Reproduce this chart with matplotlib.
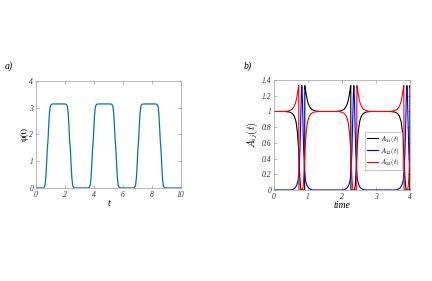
"""
Two-panel figure: phase psi(t) and the A_ij(t) components.
"""
import matplotlib
matplotlib.use('Agg')
import matplotlib.pyplot as plt

plt.rcParams['mathtext.fontset'] = 'cm'

# ---- panel a): psi(t) ----
t_psi = [0.0,
         0.45, 0.55, 0.62, 0.68, 0.73, 0.77, 0.80, 0.83, 0.87, 0.92, 0.98, 1.05, 1.15,
         2.00, 2.10, 2.17, 2.23, 2.28, 2.32, 2.35, 2.38, 2.42, 2.47, 2.53, 2.60, 2.70,
         3.57, 3.67, 3.74, 3.80, 3.85, 3.89, 3.92, 3.95, 3.99, 4.04, 4.10, 4.17, 4.27,
         5.14, 5.24, 5.31, 5.37, 5.42, 5.46, 5.49, 5.52, 5.56, 5.61, 5.67, 5.74, 5.84,
         6.70, 6.80, 6.87, 6.93, 6.98, 7.02, 7.05, 7.08, 7.12, 7.17, 7.23, 7.30, 7.40,
         8.25, 8.35, 8.42, 8.48, 8.53, 8.57, 8.60, 8.63, 8.67, 8.72, 8.78, 8.85, 8.95,
         10.0]
psi = [0.0,
       0.0, 0.02, 0.10, 0.40, 0.90, 1.35, 1.57, 1.79, 2.24, 2.74, 3.04, 3.12, 3.14,
       3.14, 3.12, 3.04, 2.74, 2.24, 1.79, 1.57, 1.35, 0.90, 0.40, 0.10, 0.02, 0.0,
       0.0, 0.02, 0.10, 0.40, 0.90, 1.35, 1.57, 1.79, 2.24, 2.74, 3.04, 3.12, 3.14,
       3.14, 3.12, 3.04, 2.74, 2.24, 1.79, 1.57, 1.35, 0.90, 0.40, 0.10, 0.02, 0.0,
       0.0, 0.02, 0.10, 0.40, 0.90, 1.35, 1.57, 1.79, 2.24, 2.74, 3.04, 3.12, 3.14,
       3.14, 3.12, 3.04, 2.74, 2.24, 1.79, 1.57, 1.35, 0.90, 0.40, 0.10, 0.02, 0.0,
       0.0]

# ---- panel b): A11, A12, A22 ----
t_a11 = [0.0,
         0.32, 0.46, 0.54, 0.60, 0.65, 0.69, 0.72, 0.74, 0.76, 0.78, 0.80, 0.905, 0.91,
         0.93, 0.95, 0.98, 1.01, 1.05, 1.10, 1.16, 1.24, 1.34,
         1.83, 1.93, 2.01, 2.07, 2.12, 2.16, 2.19, 2.22, 2.24, 2.26, 2.265, 2.37, 2.39,
         2.41, 2.43, 2.45, 2.48, 2.52, 2.57, 2.63, 2.71, 2.85,
         3.41, 3.55, 3.63, 3.69, 3.74, 3.78, 3.81, 3.83, 3.85, 3.87, 3.89, 3.995, 4.0, 4.02]
a11 = [1.0,
       1.0, 0.993, 0.975, 0.94, 0.87, 0.74, 0.56, 0.38, 0.18, 0.05, 0.0, 0.0, 1.33,
       1.28, 1.22, 1.15, 1.10, 1.06, 1.03, 1.015, 1.005, 1.0,
       1.0, 1.005, 1.015, 1.03, 1.06, 1.10, 1.15, 1.22, 1.28, 1.33, 0.0, 0.0, 0.05,
       0.18, 0.38, 0.56, 0.74, 0.87, 0.94, 0.975, 0.993, 1.0,
       1.0, 0.993, 0.975, 0.94, 0.87, 0.74, 0.56, 0.38, 0.18, 0.05, 0.0, 0.0, 1.33, 1.28]

t_a12 = [0.0,
         0.50, 0.57, 0.63, 0.67, 0.71, 0.74, 0.765, 0.785, 0.805, 0.82, 0.835, 0.855,
         0.875, 0.90, 0.93, 0.97, 1.01, 1.07, 1.14,
         2.03, 2.10, 2.16, 2.20, 2.24, 2.27, 2.295, 2.315, 2.335, 2.35, 2.365, 2.385,
         2.405, 2.43, 2.46, 2.50, 2.54, 2.60, 2.67,
         3.59, 3.66, 3.72, 3.76, 3.80, 3.83, 3.855, 3.875, 3.895, 3.91, 3.925, 3.945,
         3.965, 3.99, 4.02]
a12 = [0.0,
       0.0, 0.01, 0.03, 0.06, 0.12, 0.25, 0.5, 0.85, 1.2, 1.33, 1.2, 0.85,
       0.5, 0.25, 0.12, 0.06, 0.03, 0.01, 0.0,
       0.0, 0.01, 0.03, 0.06, 0.12, 0.25, 0.5, 0.85, 1.2, 1.33, 1.2, 0.85,
       0.5, 0.25, 0.12, 0.06, 0.03, 0.01, 0.0,
       0.0, 0.01, 0.03, 0.06, 0.12, 0.25, 0.5, 0.85, 1.2, 1.33, 1.2, 0.85,
       0.5, 0.25, 0.12]

t_a22 = [0.0,
         0.30, 0.40, 0.48, 0.54, 0.59, 0.63, 0.66, 0.69, 0.71, 0.73, 0.735, 0.84, 0.86,
         0.88, 0.90, 0.92, 0.95, 0.99, 1.04, 1.10, 1.18, 1.32,
         1.85, 1.99, 2.07, 2.13, 2.18, 2.22, 2.25, 2.27, 2.29, 2.31, 2.33, 2.435, 2.44,
         2.46, 2.48, 2.51, 2.54, 2.58, 2.63, 2.69, 2.77, 2.87,
         3.39, 3.49, 3.57, 3.63, 3.68, 3.72, 3.75, 3.78, 3.80, 3.82, 3.825, 3.93, 3.95,
         3.97, 3.99, 4.01]
a22 = [1.0,
       1.0, 1.005, 1.015, 1.03, 1.06, 1.10, 1.15, 1.22, 1.28, 1.33, 0.0, 0.0, 0.05,
       0.18, 0.38, 0.56, 0.74, 0.87, 0.94, 0.975, 0.993, 1.0,
       1.0, 0.993, 0.975, 0.94, 0.87, 0.74, 0.56, 0.38, 0.18, 0.05, 0.0, 0.0, 1.33,
       1.28, 1.22, 1.15, 1.10, 1.06, 1.03, 1.015, 1.005, 1.0,
       1.0, 1.005, 1.015, 1.03, 1.06, 1.10, 1.15, 1.22, 1.28, 1.33, 0.0, 0.0, 0.05,
       0.18, 0.38, 0.56]

x_ticks_a = [0, 2, 4, 6, 8, 10]
y_ticks_a = [0, 1, 2, 3, 4]
x_ticks_b = [0, 1, 2, 3, 4]
y_ticks_b = [0, 0.2, 0.4, 0.6, 0.8, 1.0, 1.2, 1.4]
y_ticklabels_b = ['0', '0.2', '0.4', '0.6', '0.8', '1', '1.2', '1.4']

SERIF = 'Liberation Serif'


def style_axes(ax):
    for sp in ax.spines.values():
        sp.set_color('#a0a0a0')
        sp.set_linewidth(0.5)
    ax.tick_params(direction='in', length=2, width=0.5, color='#a0a0a0',
                   top=True, right=True, pad=2)
    for lab in ax.get_xticklabels() + ax.get_yticklabels():
        lab.set_fontfamily(SERIF)
        lab.set_fontstyle('italic')
        lab.set_fontsize(5.5)
        lab.set_color('#333333')


fig = plt.figure(figsize=(4.32, 2.81), dpi=100)

# panel a
ax1 = fig.add_axes([0.0833, 0.331, 0.3356, 0.381])
ax1.plot(t_psi, psi, color='#0072BD', linewidth=0.9)
ax1.set_xlim(0, 10)
ax1.set_ylim(0, 4)
ax1.set_xticks(x_ticks_a)
ax1.set_yticks(y_ticks_a)
style_axes(ax1)
ax1.set_xlabel('t', family=SERIF, style='italic', fontsize=7, labelpad=0)
ax1.set_ylabel('ψ(t)', family=SERIF, fontsize=6.5, labelpad=0)

# panel b
ax2 = fig.add_axes([0.634, 0.324, 0.315, 0.391])
ax2.plot(t_a11, a11, color='k', linewidth=0.8, label=r'$A_{11}(t)$')
ax2.plot(t_a12, a12, color='b', linewidth=0.8, label=r'$A_{12}(t)$')
ax2.plot(t_a22, a22, color='r', linewidth=0.8, label=r'$A_{22}(t)$')
ax2.set_xlim(0, 4)
ax2.set_ylim(0, 1.4)
ax2.set_xticks(x_ticks_b)
ax2.set_yticks(y_ticks_b)
ax2.set_yticklabels(y_ticklabels_b)
style_axes(ax2)
ax2.set_xlabel('time', family=SERIF, style='italic', fontsize=7, labelpad=0)
ax2.set_ylabel(r'$A_{ij}(t)$', fontsize=7.5, labelpad=1)

leg = ax2.legend(loc='upper left', bbox_to_anchor=(0.67, 0.53), fontsize=5,
                 frameon=True, fancybox=False, borderpad=0.3, handlelength=1.6,
                 handletextpad=0.3, labelspacing=0.1, borderaxespad=0)
leg.get_frame().set_edgecolor('#a0a0a0')
leg.get_frame().set_linewidth(0.5)

fig.text(0.012, 0.755, 'a)', family=SERIF, style='italic', fontsize=7)
fig.text(0.563, 0.755, 'b)', family=SERIF, style='italic', fontsize=7)

fig.savefig('out.png', dpi=100)
